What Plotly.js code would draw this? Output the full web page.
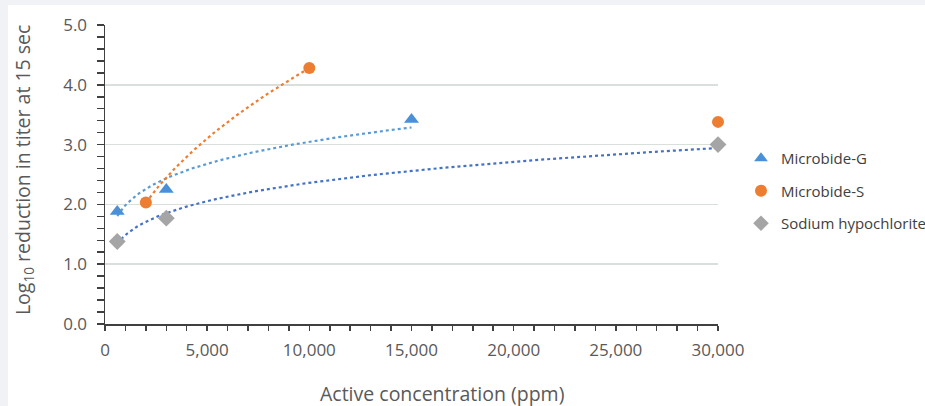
<!DOCTYPE html>
<html>
<head>
<meta charset="utf-8">
<script src="https://cdn.plot.ly/plotly-3.0.1.min.js"></script>
<style>
  html, body { margin: 0; padding: 0; background: #f0f2f5; width: 925px; height: 406px; overflow: hidden; }
  #chart { position: absolute; left: 8px; top: 5px; width: 917px; height: 401px; background: #ffffff; }
</style>
</head>
<body>
<div id="chart"></div>
<script>
// ---- Data ----
const gConc = [600, 3000, 15000];
const gLogRed = [1.88, 2.25, 3.42];

const sConc = [2000, 10000, 30000];
const sLogRed = [2.03, 4.28, 3.38];
const sFitCount = 2; // trendline fitted on first two points only

const naConc = [600, 3000, 30000];
const naLogRed = [1.38, 1.77, 3.00];

const seriesNames = ['Microbide-G', 'Microbide-S', 'Sodium hypochlorite'];
const xTitle = 'Active concentration (ppm)';
const yTitle = 'Log<sub>10</sub> reduction in titer at 15 sec';

// ---- Power trendline (y = a x^b) fitted by least squares in log-log space ----
function powerFit(xs, ys) {
  const lx = xs.map(Math.log), ly = ys.map(Math.log);
  const n = lx.length;
  const mx = lx.reduce((s, v) => s + v, 0) / n;
  const my = ly.reduce((s, v) => s + v, 0) / n;
  let sxy = 0, sxx = 0;
  for (let i = 0; i < n; i++) { sxy += (lx[i] - mx) * (ly[i] - my); sxx += (lx[i] - mx) ** 2; }
  const b = sxy / sxx;
  const a = Math.exp(my - b * mx);
  return { a, b };
}
function trendCurve(xs, ys) {
  const f = powerFit(xs, ys);
  const x0 = Math.min(...xs), x1 = Math.max(...xs);
  const tx = [], ty = [];
  const steps = 120;
  for (let i = 0; i <= steps; i++) {
    const x = x0 + (x1 - x0) * i / steps;
    tx.push(x); ty.push(f.a * Math.pow(x, f.b));
  }
  return { x: tx, y: ty };
}

const gTrend = trendCurve(gConc, gLogRed);
const sTrend = trendCurve(sConc.slice(0, sFitCount), sLogRed.slice(0, sFitCount));
const naTrend = trendCurve(naConc, naLogRed);

const cG = '#4a90d9', cS = '#ed7d31', cNa = '#a5a5a5';

const traces = [
  { x: gTrend.x, y: gTrend.y, mode: 'lines', line: { color: '#5b9bd5', width: 2.2, dash: 'dot' }, showlegend: false, hoverinfo: 'skip' },
  { x: sTrend.x, y: sTrend.y, mode: 'lines', line: { color: cS, width: 2.2, dash: 'dot' }, showlegend: false, hoverinfo: 'skip' },
  { x: naTrend.x, y: naTrend.y, mode: 'lines', line: { color: '#4472c4', width: 2.2, dash: 'dot' }, showlegend: false, hoverinfo: 'skip' },
  { x: gConc, y: gLogRed, name: seriesNames[0], mode: 'markers', legendgroup: 'g', cliponaxis: false,
    marker: { symbol: 'triangle-up', size: 13, color: cG } },
  { x: sConc, y: sLogRed, name: seriesNames[1], mode: 'markers', legendgroup: 's', cliponaxis: false,
    marker: { symbol: 'circle', size: 12, color: cS } },
  { x: naConc, y: naLogRed, name: seriesNames[2], mode: 'markers', legendgroup: 'n', cliponaxis: false,
    marker: { symbol: 'diamond', size: 13, color: cNa } }
];

const fontFam = '"Open Sans", sans-serif';
const layout = {
  width: 917, height: 401,
  margin: { l: 97, r: 207, t: 20, b: 82, autoexpand: false },
  paper_bgcolor: '#ffffff', plot_bgcolor: '#ffffff',
  font: { family: fontFam, color: '#595959', size: 17 },
  showlegend: true,
  legend: {
    x: 1.0375, xanchor: 'left', y: 0.445, yanchor: 'middle',
    font: { family: fontFam, size: 15, color: '#404040' },
    itemwidth: 30, traceorder: 'grouped', tracegroupgap: 10,
    bgcolor: 'rgba(0,0,0,0)', itemsizing: 'constant'
  },
  xaxis: {
    range: [0, 30000], dtick: 5000, tick0: 0, tickformat: ',d',
    showgrid: false, zeroline: false,
    showline: true, linecolor: '#404040', linewidth: 1.5,
    ticks: 'outside', ticklen: 5, tickcolor: '#404040', tickwidth: 1.5,
    ticklabelstandoff: 5,
    minor: { dtick: 1000, ticks: 'outside', ticklen: 5, tickcolor: '#404040', tickwidth: 1.5, showgrid: false },
    tickfont: { size: 17, color: '#595959' },
    fixedrange: true
  },
  yaxis: {
    range: [0, 5], dtick: 1, tick0: 0, tickformat: '.1f',
    showgrid: true, gridcolor: '#d9dfdb', gridwidth: 1.5, zeroline: false,
    showline: true, linecolor: '#404040', linewidth: 1.5,
    ticks: 'outside', ticklen: 7, tickcolor: '#404040', tickwidth: 1.5,
    ticklabelstandoff: 6,
    minor: { dtick: 0.2, ticks: 'outside', ticklen: 7, tickcolor: '#404040', tickwidth: 1.5, showgrid: false },
    tickfont: { size: 17, color: '#595959' },
    fixedrange: true
  },
  annotations: [
    { text: xTitle, xref: 'paper', yref: 'paper', x: 0.55, y: -0.231, xanchor: 'center', yanchor: 'middle',
      showarrow: false, font: { size: 19.5, color: '#595959', family: fontFam } },
    { text: yTitle, xref: 'paper', yref: 'paper', x: -0.1338, y: 0.518, xanchor: 'center', yanchor: 'middle',
      textangle: -90, showarrow: false, font: { size: 19.5, color: '#595959', family: fontFam } }
  ]
};

Plotly.newPlot('chart', traces, layout, { displayModeBar: false, staticPlot: true });
</script>
</body>
</html>
